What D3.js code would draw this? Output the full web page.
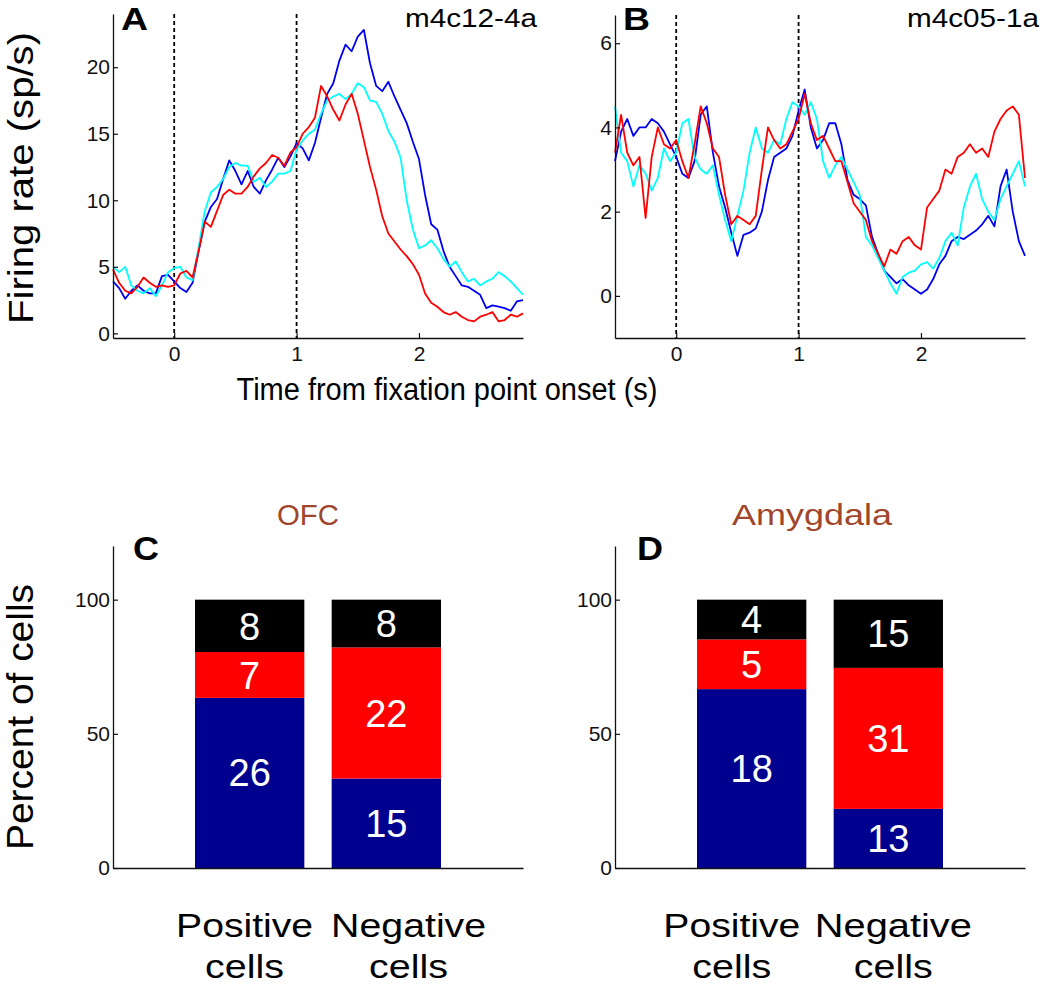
<!DOCTYPE html>
<html><head><meta charset="utf-8">
<script src="https://cdn.jsdelivr.net/npm/d3@7"></script>
<style>
body{margin:0;background:#fff}
svg{display:block}
text{font-family:"Liberation Sans",Arial,Helvetica,sans-serif}
</style>
</head><body>
<svg id="c" width="1050" height="985"></svg>
<script>
// ---------- data ----------
const timeSec = [-0.5,-0.45,-0.4,-0.35,-0.3,-0.25,-0.2,-0.15,-0.1,-0.05,
  0,0.05,0.1,0.15,0.2,0.25,0.3,0.35,0.4,0.45,
  0.5,0.55,0.6,0.65,0.7,0.75,0.8,0.85,0.9,0.95,
  1.0,1.05,1.1,1.15,1.2,1.25,1.3,1.35,1.4,1.45,
  1.5,1.55,1.6,1.65,1.7,1.75,1.8,1.85,1.9,1.95,
  2.0,2.05,2.1,2.15,2.2,2.25,2.3,2.35,2.4,2.45,
  2.5,2.55,2.6,2.65,2.7,2.75,2.8,2.85];

const aBlue = [3.9,3.4,2.6,3.2,3.6,3.2,3.0,3.0,4.3,4.4,
  3.9,3.4,3.1,3.8,6.2,8.4,9.5,10.1,11.6,13.0,
  12.2,11.2,12.2,11.0,10.5,11.5,12.3,13.2,12.5,13.3,
  14.3,13.9,13.0,14.3,16.2,18.0,18.8,20.5,21.7,21.2,
  22.3,22.8,20.3,18.6,18.2,18.9,17.8,16.8,15.8,14.4,
  13.1,10.4,8.2,7.8,6.2,5.0,4.3,3.6,3.5,3.2,
  2.9,1.9,2.1,2.0,1.9,1.7,2.4,2.5];
const aCyan = [5.0,4.6,5.0,3.6,3.2,3.0,3.4,2.8,3.6,4.6,
  4.9,5.0,4.2,4.0,6.5,9.2,10.6,11.0,11.6,12.5,
  12.8,12.6,12.6,11.4,11.7,11.0,11.4,12.0,12.0,12.2,
  13.8,14.5,15.0,15.3,16.5,17.5,17.8,18.0,17.6,18.0,
  18.8,18.5,17.5,17.4,16.5,15.2,14.4,13.2,10.0,7.8,
  6.4,6.6,7.0,6.4,5.6,5.0,5.4,4.6,3.9,4.1,
  3.6,3.9,4.1,4.6,4.3,3.9,3.4,2.9];
const aRed = [4.8,3.8,3.2,3.0,3.5,4.2,3.8,3.5,3.6,3.5,
  3.6,4.5,4.7,4.2,6.2,8.4,8.0,9.2,10.4,10.8,
  10.5,10.5,11.0,11.8,12.4,12.8,13.4,13.2,12.6,13.6,
  14.0,15.0,15.5,16.2,18.6,17.8,16.8,16.0,17.2,18.0,
  16.5,14.5,12.5,10.8,8.8,7.5,6.9,6.3,5.8,5.2,
  4.4,3.0,2.3,2.0,1.6,1.4,1.6,1.25,1.0,0.9,
  1.25,1.4,1.6,0.9,1.0,1.4,1.25,1.5];

const bBlue = [3.2,3.9,4.2,3.8,4.0,4.0,4.2,4.1,3.9,3.6,
  3.3,2.9,2.8,3.2,4.3,4.5,3.4,2.6,2.1,1.5,
  0.95,1.45,1.5,1.6,2.0,2.75,3.3,3.4,3.5,3.8,
  4.4,4.9,4.0,3.5,3.7,4.1,4.1,3.6,2.75,2.4,
  2.3,2.15,1.4,1.0,0.6,0.45,0.3,0.4,0.25,0.15,
  0.05,0.15,0.4,0.75,0.95,1.3,1.4,1.35,1.45,1.55,
  1.7,1.9,1.65,2.6,3.0,2.0,1.3,0.95];
const bCyan = [4.5,3.4,3.2,2.6,3.1,2.9,2.5,2.8,3.5,3.2,
  3.4,4.1,4.2,3.3,3.0,2.9,3.1,2.4,1.8,1.3,
  1.9,2.5,3.4,4.0,3.5,3.4,3.7,3.6,4.2,4.6,
  4.5,4.3,4.6,4.2,3.2,2.8,3.1,3.3,3.0,2.7,
  2.4,1.4,1.2,0.9,0.6,0.3,0.05,0.45,0.55,0.6,
  0.75,0.8,0.65,0.9,1.3,1.5,1.2,2.1,2.6,2.9,
  2.3,2.0,1.8,2.3,2.6,2.9,3.2,2.6];
const bRed = [3.4,4.3,3.4,3.1,3.3,1.85,3.3,4.0,3.6,3.5,
  3.7,3.2,2.8,3.6,4.5,4.1,3.5,3.3,2.4,1.7,
  1.9,1.8,1.7,1.9,3.0,4.0,3.7,3.5,3.6,3.9,
  4.2,4.8,4.1,3.7,3.8,3.5,3.2,3.2,2.7,2.2,
  2.0,1.8,1.3,1.0,0.7,1.1,1.0,1.3,1.4,1.2,
  1.1,2.1,2.3,2.5,3.0,2.9,3.3,3.4,3.6,3.4,
  3.5,3.3,3.9,4.2,4.4,4.5,4.3,2.8];

const timeTicks = [0, 1, 2];
const markerTimes = [0, 1];
const aYTicks = [0, 5, 10, 15, 20];
const bYTicks = [0, 2, 4, 6];
const pctTicks = [0, 50, 100];

const categories = ["Positive cells", "Negative cells"];
const segmentKeys = ["blue", "red", "black"];
const ofcBlue = [26, 15], ofcRed = [7, 22], ofcBlack = [8, 8];
const amyBlue = [18, 13], amyRed = [5, 31], amyBlack = [4, 15];

// ---------- helpers ----------
const svg = d3.select("#c");
const FONT = '"Liberation Sans",Arial,Helvetica,sans-serif';

function label(g, s, x, y, size, opt = {}) {
  const t = g.append("text").attr("x", x).attr("y", y)
    .attr("font-size", size).attr("fill", opt.fill || "#000")
    .attr("text-anchor", opt.anchor || "start")
    .attr("font-weight", opt.bold ? "bold" : "normal")
    .text(s);
  if (opt.len) t.attr("textLength", opt.len).attr("lengthAdjust", "spacingAndGlyphs");
  if (opt.rotate) t.attr("transform", `rotate(${opt.rotate},${x},${y})`);
  return t;
}

function styleAxis(ax) {
  ax.attr("font-family", FONT).attr("font-size", 21).attr("color", "#111");
  ax.selectAll(".domain").attr("stroke-width", 1.3);
  ax.selectAll(".tick line").attr("stroke-width", 1.2);
}

// ---------- line panels ----------
function linePanel(cfg) {
  const x = d3.scaleLinear().domain([-0.5, 2.85]).range([cfg.x0, cfg.x1]);
  const y = d3.scaleLinear().domain(cfg.ydom).range([338, cfg.ytop]);
  const g = svg.append("g");

  g.selectAll("line.mark").data(markerTimes).join("line")
    .attr("x1", d => x(d)).attr("x2", d => x(d))
    .attr("y1", cfg.ytop).attr("y2", 338)
    .attr("stroke", "#000").attr("stroke-width", 1.8).attr("stroke-dasharray", "4,3");

  const line = d3.line().x((d, i) => x(timeSec[i])).y(d => y(d));
  cfg.series.forEach(s => {
    g.append("path").datum(s.values).attr("d", line)
      .attr("fill", "none").attr("stroke", s.color)
      .attr("stroke-width", 1.8).attr("stroke-linejoin", "round");
  });

  const ya = g.append("g").attr("transform", `translate(${cfg.x0},0)`)
    .call(d3.axisLeft(y).tickValues(cfg.yticks).tickSizeInner(-5).tickSizeOuter(0).tickPadding(3).tickFormat(d3.format("d")));
  styleAxis(ya);
  const xa = g.append("g").attr("transform", `translate(0,338)`)
    .call(d3.axisBottom(x).tickValues(timeTicks).tickSizeInner(-5).tickSizeOuter(0).tickPadding(8).tickFormat(d3.format("d")));
  styleAxis(xa);

  label(g, cfg.letter, cfg.x0 + 8, 30, 32, {bold: true, len: 27});
  label(g, cfg.name, cfg.x1 - 118, 27, 26, {len: 132});
}

linePanel({x0: 113, x1: 523, ytop: 14, ydom: [-0.35, 24], yticks: aYTicks, letter: "A", name: "m4c12-4a",
  series: [{values: aBlue, color: "#0000f0"}, {values: aCyan, color: "#00ffff"}, {values: aRed, color: "#ff0000"}]});
linePanel({x0: 615, x1: 1025, ytop: 15, ydom: [-1, 6.67], yticks: bYTicks, letter: "B", name: "m4c05-1a",
  series: [{values: bBlue, color: "#0000f0"}, {values: bCyan, color: "#00ffff"}, {values: bRed, color: "#ff0000"}]});

label(svg, "Firing rate (sp/s)", 33, 178, 35, {anchor: "middle", rotate: -90, len: 292});
label(svg, "Time from fixation point onset (s)", 447, 400, 31, {anchor: "middle", len: 421});

// ---------- bar panels ----------
const segColor = {blue: "#00008f", red: "#ff0000", black: "#000000"};

function barPanel(cfg) {
  const xl = d3.scaleLinear().domain([0, 3]).range([cfg.x0, cfg.x1]);
  const xb = d3.scaleBand().domain(categories).range([xl(0.5), xl(2.5)]).paddingInner(0.2).paddingOuter(0.1);
  const y = d3.scaleLinear().domain([0, 120]).range([868, 546]);
  const g = svg.append("g");

  const rows = categories.map((c, i) => {
    const tot = cfg.blue[i] + cfg.red[i] + cfg.black[i];
    return {cat: c, blue: cfg.blue[i] / tot * 100, red: cfg.red[i] / tot * 100, black: cfg.black[i] / tot * 100,
      n: {blue: cfg.blue[i], red: cfg.red[i], black: cfg.black[i]}};
  });
  const stacked = d3.stack().keys(segmentKeys)(rows);

  stacked.forEach(layer => {
    g.selectAll(null).data(layer).join("rect")
      .attr("x", d => xb(d.data.cat)).attr("width", xb.bandwidth())
      .attr("y", d => y(d[1])).attr("height", d => y(d[0]) - y(d[1]))
      .attr("fill", segColor[layer.key]);
    g.selectAll(null).data(layer).join("text")
      .attr("x", d => xb(d.data.cat) + xb.bandwidth() / 2)
      .attr("y", d => y((d[0] + d[1]) / 2 + ((d[1] - d[0]) > 55 ? 4 : 0)))
      .attr("dy", "0.36em")
      .attr("text-anchor", "middle").attr("fill", "#fff").attr("font-size", 38)
      .text(d => d.data.n[layer.key]);
  });

  const ya = g.append("g").attr("transform", `translate(${cfg.x0},0)`)
    .call(d3.axisLeft(y).tickValues(pctTicks).tickSizeInner(-5).tickSizeOuter(0).tickPadding(3));
  styleAxis(ya);
  const xa = g.append("g").attr("transform", `translate(0,868)`)
    .call(d3.axisBottom(xl).tickValues([]).tickSizeOuter(0));
  styleAxis(xa);

  label(g, cfg.letter, cfg.letterX, 560, 33, {bold: true, len: 26});
  label(g, cfg.title, cfg.titleX, 525, 30, {anchor: "middle", fill: "#a0462c", len: cfg.titleLen});

  categories.forEach((c, i) => {
    const [w1, w2] = c.split(" ");
    const cx = xl(cfg.labelAt[i]);
    label(g, w1, cx, 937, 34, {anchor: "middle", len: cfg.labelLen[i]});
    label(g, w2, cx, 978, 33, {anchor: "middle", len: 79});
  });
}

barPanel({x0: 113, x1: 523, blue: ofcBlue, red: ofcRed, black: ofcBlack, letter: "C", letterX: 133,
  title: "OFC", titleX: 308, titleLen: 62, labelAt: [0.963, 2.163], labelLen: [137, 155]});
barPanel({x0: 615, x1: 1025, blue: amyBlue, red: amyRed, black: amyBlack, letter: "D", letterX: 637,
  title: "Amygdala", titleX: 812, titleLen: 160, labelAt: [0.855, 2.037], labelLen: [137, 157]});

label(svg, "Percent of cells", 33, 717, 37, {anchor: "middle", rotate: -90, len: 266});
</script>
</body></html>
